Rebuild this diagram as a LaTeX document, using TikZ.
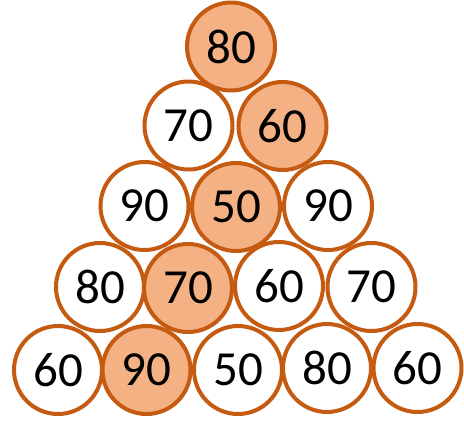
\documentclass[tikz,border=0pt]{standalone}
\usepackage{fontspec}
\setmainfont{Carlito}
\definecolor{ringorange}{HTML}{C55A11}
\definecolor{fillorange}{HTML}{F4B183}
\begin{document}
\begin{tikzpicture}[x=1pt,y=-1pt,
  ball/.style={circle,draw=ringorange,line width=4pt,fill=white,minimum size=88pt,inner sep=0pt,
    font=\fontsize{49}{49}\selectfont},
  hot/.style={ball,fill=fillorange}]
\useasboundingbox (0,0) rectangle (464,421);
\node[hot]  (r1a) at (231,46.5) {80};
\node[ball] (r2a) at (188.5,125.5) {70};
\node[hot]  (r2b) at (282.5,126) {60};
\node[ball] (r3a) at (144.5,206) {90};
\node[hot]  (r3b) at (236,207) {50};
\node[ball] (r3c) at (328,206) {90};
\node[ball] (r4a) at (100,287) {80};
\node[hot]  (r4b) at (188,288) {70};
\node[ball] (r4c) at (279,286) {60};
\node[ball] (r4d) at (371.5,287) {70};
\node[ball] (r5a) at (58,370) {60};
\node[hot]  (r5b) at (146.5,370) {90};
\node[ball] (r5c) at (238,370) {50};
\node[ball] (r5d) at (327,368) {80};
\node[ball] (r5e) at (417.5,368) {60};
\end{tikzpicture}
\end{document}
